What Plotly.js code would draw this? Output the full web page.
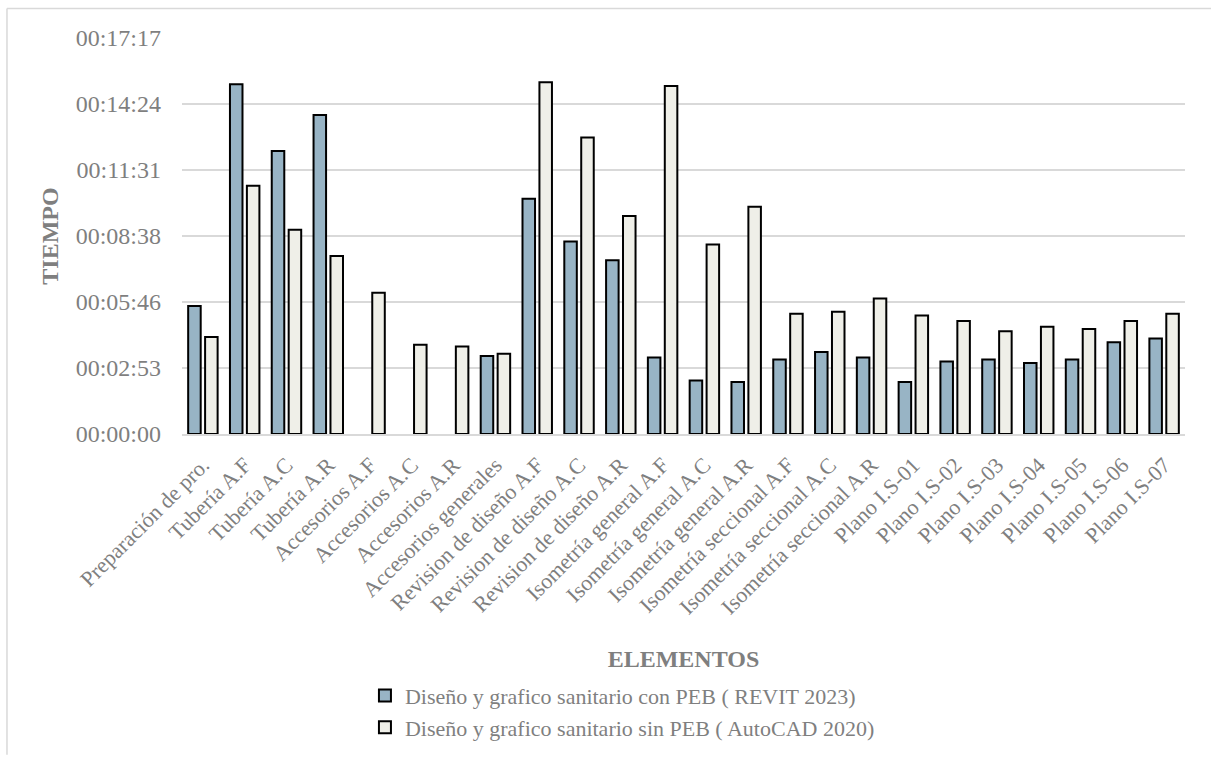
<!DOCTYPE html>
<html>
<head>
<meta charset="utf-8">
<script src="https://cdn.plot.ly/plotly-3.0.1.min.js"></script>
<style>
html, body { margin: 0; padding: 0; background: #ffffff; }
#chart { width: 1211px; height: 760px; }
</style>
</head>
<body>
<div id="chart"></div>
<script>
const categories = [
  "Preparación de pro.", "Tubería A.F", "Tubería A.C", "Tubería A.R",
  "Accesorios A.F", "Accesorios A.C", "Accesorios A.R", "Accesorios generales",
  "Revision de diseño A.F", "Revision de diseño A.C", "Revision de diseño A.R",
  "Isometría general A.F", "Isometría general A.C", "Isometría general A.R",
  "Isometría seccional A.F", "Isometría seccional A.C", "Isometría seccional A.R",
  "Plano I.S-01", "Plano I.S-02", "Plano I.S-03", "Plano I.S-04",
  "Plano I.S-05", "Plano I.S-06", "Plano I.S-07"
];

const seriesNames = [
  "Diseño y grafico sanitario con PEB ( REVIT 2023)",
  "Diseño y grafico sanitario sin PEB ( AutoCAD 2020)"
];

const revitTimes = [
  "00:05:35", "00:15:16", "00:12:21", "00:13:55",
  null, null, null, "00:03:24",
  "00:10:16", "00:08:24", "00:07:35",
  "00:03:20", "00:02:20", "00:02:16",
  "00:03:15", "00:03:35", "00:03:20",
  "00:02:16", "00:03:10", "00:03:15", "00:03:06",
  "00:03:15", "00:04:00", "00:04:10"
];

const autocadTimes = [
  "00:04:14", "00:10:50", "00:08:55", "00:07:46",
  "00:06:10", "00:03:54", "00:03:49", "00:03:30",
  "00:15:21", "00:12:56", "00:09:31",
  "00:15:11", "00:08:16", "00:09:55",
  "00:05:15", "00:05:20", "00:05:55",
  "00:05:10", "00:04:56", "00:04:29", "00:04:41",
  "00:04:35", "00:04:56", "00:05:15"
];

// Y axis: Excel time axis, major unit 0.002 day (172.8 s)
const yTickSeconds = [0, 172.8, 345.6, 518.4, 691.2, 864, 1036.8];
const yTickLabels = ["00:00:00", "00:02:53", "00:05:46", "00:08:38", "00:11:31", "00:14:24", "00:17:17"];

function toSeconds(t) {
  if (t === null) return null;
  const p = t.split(":").map(Number);
  return p[0] * 3600 + p[1] * 60 + p[2];
}

const fontFamily = '"Liberation Serif", "Times New Roman", serif';
const textGray = '#7f7f7f';

const traces = [
  {
    type: 'bar',
    name: seriesNames[0],
    x: categories,
    y: revitTimes.map(toSeconds),
    customdata: revitTimes,
    hovertemplate: '%{x}<br>%{customdata}<extra></extra>',
    marker: { color: '#98b4c5', line: { color: '#000000', width: 2 } }
  },
  {
    type: 'bar',
    name: seriesNames[1],
    x: categories,
    y: autocadTimes.map(toSeconds),
    customdata: autocadTimes,
    hovertemplate: '%{x}<br>%{customdata}<extra></extra>',
    marker: { color: '#efefe8', line: { color: '#000000', width: 2 } }
  }
];

const layout = {
  width: 1211,
  height: 760,
  margin: { l: 182, r: 26, t: 38, b: 320 },
  paper_bgcolor: '#ffffff',
  plot_bgcolor: '#ffffff',
  barmode: 'group',
  bargap: 0.19,
  bargroupgap: 0.26,
  font: { family: fontFamily, color: textGray, size: 22 },
  showlegend: true,
  legend: {
    orientation: 'v',
    x: 0.1824, xanchor: 'left',
    y: -0.608, yanchor: 'top',
    font: { family: fontFamily, size: 22, color: textGray },
    bgcolor: 'rgba(0,0,0,0)',
    itemwidth: 30,
    tracegroupgap: 0
  },
  xaxis: {
    type: 'category',
    tickangle: -45,
    tickfont: { family: fontFamily, size: 22, color: textGray },
    ticklabelstandoff: 8,
    ticklabelshift: 0,
    showgrid: false,
    showline: true,
    linecolor: '#d9d9d9',
    linewidth: 1.5,
    ticks: '',
    automargin: false,
    title: {
      text: 'ELEMENTOS',
      font: { family: fontFamily, size: 24, color: textGray, weight: 'bold' },
      standoff: 32
    }
  },
  yaxis: {
    range: [0, 1036.8],
    tickmode: 'array',
    tickvals: yTickSeconds,
    ticktext: yTickLabels,
    tickfont: { family: fontFamily, size: 24, color: textGray },
    showgrid: true,
    gridcolor: '#d9d9d9',
    gridwidth: 1.5,
    zeroline: false,
    showline: false,
    ticks: '',
    ticklabelstandoff: 20,
    automargin: false,
    title: {
      text: 'TIEMPO',
      font: { family: fontFamily, size: 24, color: textGray, weight: 'bold' },
      standoff: 10
    }
  },
  shapes: [
    { type: 'line', xref: 'paper', yref: 'paper', x0: -0.1745, x1: 1.03, y0: 1.0746, y1: 1.0746,
      line: { color: '#d9d9d9', width: 1.5 } },
    { type: 'line', xref: 'paper', yref: 'paper', x0: -0.1745, x1: -0.1745, y0: -0.81, y1: 1.0746,
      line: { color: '#d9d9d9', width: 1.5 } }
  ]
};

Plotly.newPlot('chart', traces, layout, { staticPlot: true, displayModeBar: false });
</script>
</body>
</html>
